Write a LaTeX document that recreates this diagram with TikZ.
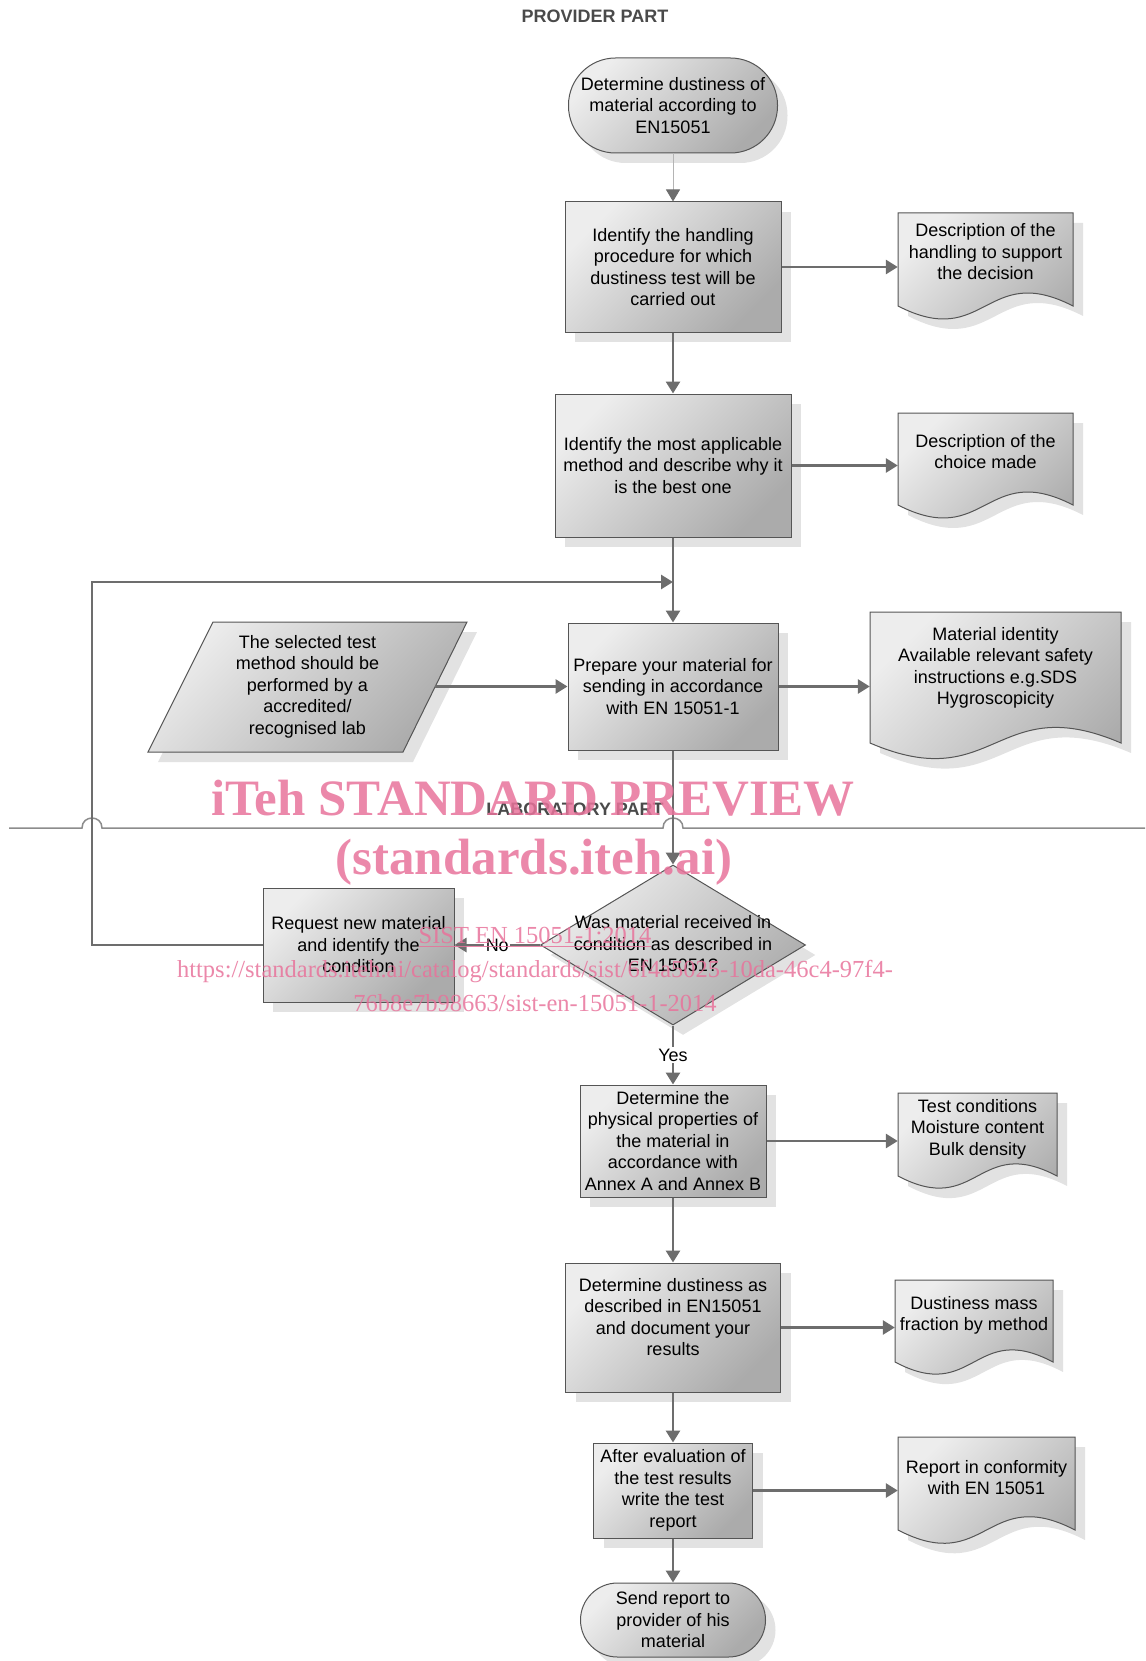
\documentclass[tikz,border=0pt]{standalone}
\usepackage{fontspec}
\setmainfont{Liberation Sans}
\newfontfamily\wmfont{Liberation Serif}
\usetikzlibrary{arrows.meta,shadows,shapes.geometric}

\definecolor{shadowgray}{HTML}{E2E2E2}
\definecolor{bordergray}{HTML}{555555}
\definecolor{arrowgray}{HTML}{6D6D6D}
\definecolor{lightfill}{HTML}{EDEDED}
\definecolor{darkfill}{HTML}{ABABAB}
\definecolor{sepgray}{HTML}{8C8C8C}
\definecolor{thingray}{HTML}{B4B4B4}
\definecolor{headgray}{HTML}{4A4A4A}
\definecolor{wmpink}{HTML}{E8739B}

\newcommand\docshape[5]{%
  \path[shapesty] (#1,#2) -- (#3,#2) -- (#3,#4)
    .. controls ({(#1+#3)/2},{#4-#5}) and ({(#1+#3)/2},{#4+#5}) .. (#1,#4) -- cycle;}

\tikzset{
  myshadow/.style={drop shadow={shadow xshift=10pt, shadow yshift=-10pt, fill=shadowgray, opacity=1}},
  gfill/.style={top color=lightfill, bottom color=darkfill, shading angle=45},
  shapesty/.style={draw=bordergray, line width=1pt, gfill, myshadow},
  basefont/.style={font=\fontsize{18}{21.5}\selectfont},
  procbox/.style={shapesty, rectangle, inner sep=0pt, align=center, basefont},
  txt/.style={inner sep=0pt, align=center, basefont},
  dianode/.style={shapesty, diamond, inner sep=0pt, minimum width=265pt, minimum height=160pt},
  arr/.style={draw=arrowgray, line width=2.8pt, -{Triangle[length=12pt,width=14pt]}},
  thinarr/.style={draw=thingray, line width=1pt, -{Triangle[length=12pt,width=14pt,color=arrowgray]}},
  lbl/.style={fill=white, inner sep=1.5pt, basefont},
  sep/.style={draw=sepgray, line width=1.5pt},
  heading/.style={inner sep=0pt, text=headgray, font=\fontsize{18}{21.5}\selectfont\bfseries},
  wm/.style={inner sep=0pt, text=wmpink, text opacity=0.85}
}

\begin{document}
\begin{tikzpicture}[x=1pt,y=-1pt]
\useasboundingbox (0,0) rectangle (1145,1661);

% headings
\node[heading] (ph) at (595,16) {PROVIDER PART};
\node[heading] (lp) at (575,809) {LABORATORY PART};

% separator with line hops
\draw[sep] (9,828) -- (82,828) .. controls (82,814.7) and (102,814.7) .. (102,828)
  -- (663,828) .. controls (663,814.7) and (683,814.7) .. (683,828) -- (1145,828);

% main flow nodes
\node[procbox, rounded corners=47pt, minimum width=209pt, minimum height=95pt] (start) at (673,105.5)
  {Determine dustiness of\\material according to\\EN15051};
\node[procbox, minimum width=216pt, minimum height=130pt] (b1) at (673,267)
  {Identify the handling\\procedure for which\\dustiness test will be\\carried out};
\node[procbox, minimum width=236pt, minimum height=143pt] (b2) at (673,465.5)
  {Identify the most applicable\\method and describe why it\\is the best one};
\node[procbox, minimum width=210pt, minimum height=127pt] (b3) at (673,686.5)
  {Prepare your material for\\sending in accordance\\with EN 15051-1};
\node[dianode] (dia) at (673,945) {};
\node[txt] (dtext) at (673,944) {Was material received in\\condition as described in\\EN 15051?};
\node[procbox, minimum width=191pt, minimum height=114pt] (req) at (358.5,945)
  {Request new material\\and identify the\\condition};
\node[procbox, minimum width=186pt, minimum height=112pt] (b4) at (673,1141)
  {Determine the\\physical properties of\\the material in\\accordance with\\Annex A and Annex B};
\node[procbox, minimum width=215pt, minimum height=129pt] (b5) at (673,1327.5)
  {Determine dustiness as\\described in EN15051\\and document your\\results\\\mbox{}};
\node[procbox, minimum width=159pt, minimum height=95pt] (b6) at (673,1490.5)
  {After evaluation of\\the test results\\write the test\\report};
\node[procbox, rounded corners=37pt, minimum width=185pt, minimum height=74pt] (end) at (673,1620)
  {Send report to\\provider of his\\material};

% parallelogram (input)
\path[shapesty] (213,622) -- (467,622) -- (403,752) -- (148,752) -- cycle;
\node[txt, minimum width=255pt] (par) at (307.5,686.5)
  {The selected test\\method should be\\performed by a\\accredited/\\recognised lab};

% documents
\docshape{898}{213}{1073}{306}{45}
\node[txt, minimum width=175pt] (d1) at (985.5,252) {Description of the\\handling to support\\the decision};
\docshape{898}{413}{1073}{505}{45}
\node[txt, minimum width=175pt] (d2) at (985.5,451.5) {Description of the\\choice made};
\docshape{870}{612}{1121}{743}{54}
\node[txt, minimum width=251pt] (d3) at (995.5,668) {Material identity\\Available relevant safety\\instructions e.g.SDS\\Hygroscopicity};
\docshape{898}{1093}{1057}{1176}{42}
\node[txt, minimum width=159pt] (d4) at (977.5,1129) {Test conditions\\Moisture content\\Bulk density};
\docshape{895}{1280}{1053}{1362}{42}
\node[txt, minimum width=158pt] (d5) at (974,1315.5) {Dustiness mass\\fraction by method};
\docshape{898}{1437}{1075}{1530}{46}
\node[txt, minimum width=177pt] (d6) at (986.5,1477.5) {Report in conformity\\with EN 15051};

% feedback coordinates
\coordinate (fbx) at (92,700);
\coordinate (join) at (673,582);

% connectors
\draw[thinarr] (start.south) -- (b1.north);
\draw[arr] (b1.south) -- (b2.north);
\draw[arr] (b1.east) -- (b1.east -| d1.west);
\draw[arr] (b2.east) -- (b2.east -| d2.west);
\draw[arr] (b2.south) -- (b3.north);
\draw[arr] (par.east) -- (par.east -| b3.west);
\draw[arr] (b3.east) -- (b3.east -| d3.west);
\draw[arr] (b3.south) -- (dia.north);
\draw[arr] (dia.west) -- node[lbl] {No} (req.east);
\draw[arr] (req.west) -- (req.west -| fbx) -- (fbx |- join) -- (join);
\draw[arr] (dia.south) -- node[lbl] {Yes} (b4.north);
\draw[arr] (b4.east) -- (b4.east -| d4.west);
\draw[arr] (b4.south) -- (b5.north);
\draw[arr] (b5.east) -- (b5.east -| d5.west);
\draw[arr] (b5.south) -- (b6.north);
\draw[arr] (b6.east) -- (b6.east -| d6.west);
\draw[arr] (b6.south) -- (end.north);

% watermark
\node[wm, font=\fontsize{51}{55}\selectfont\wmfont\bfseries] (wm1) at (533,798) {iTeh STANDARD PREVIEW};
\node[wm, font=\fontsize{51}{55}\selectfont\wmfont\bfseries] (wm2) at (534,862) {(standards.iteh.ai)};
\node[wm, font=\fontsize{24.5}{26}\selectfont\wmfont] (wm3) at (535,937) {\underline{SIST EN 15051-1:2014}};
\node[wm, font=\fontsize{24.5}{26}\selectfont\wmfont] (wm4) at (535,972) {https://standards.iteh.ai/catalog/standards/sist/6f4a5025-10da-46c4-97f4-};
\node[wm, font=\fontsize{24.5}{26}\selectfont\wmfont] (wm5) at (535,1003) {76b8e7b98663/sist-en-15051-1-2014};
\end{tikzpicture}
\end{document}
